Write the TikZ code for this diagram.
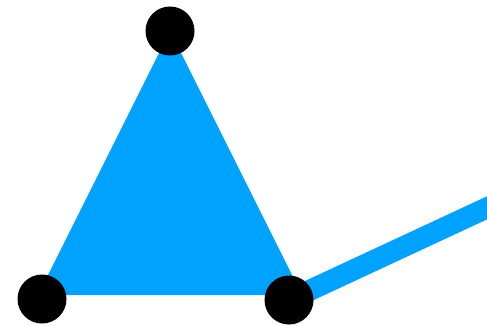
\documentclass[tikz,border=0pt]{standalone}
\usepackage{tikz}
\definecolor{skyblue}{RGB}{0,162,255}

\begin{document}
\begin{tikzpicture}[
  x=1pt, y=-1pt,
  dot/.style={circle, fill=black, minimum size=49pt, inner sep=0pt},
  bar/.style={draw=skyblue, line width=21pt}
]
  \useasboundingbox (0,0) rectangle (487,326);
  \clip (0,0) rectangle (487,326);

  % filled triangle
  \fill[skyblue] (170,31) -- (302,295) -- (38,295) -- cycle;

  % vertices
  \coordinate (topc) at (170,31);
  \coordinate (leftc) at (42,299);
  \coordinate (rightc) at (289,300);
  \coordinate (exit) at (520,192.5);

  \draw[bar] (rightc) -- (exit);

  \node[dot] (top) at (topc) {};
  \node[dot] (left) at (leftc) {};
  \node[dot] (right) at (rightc) {};
\end{tikzpicture}
\end{document}
